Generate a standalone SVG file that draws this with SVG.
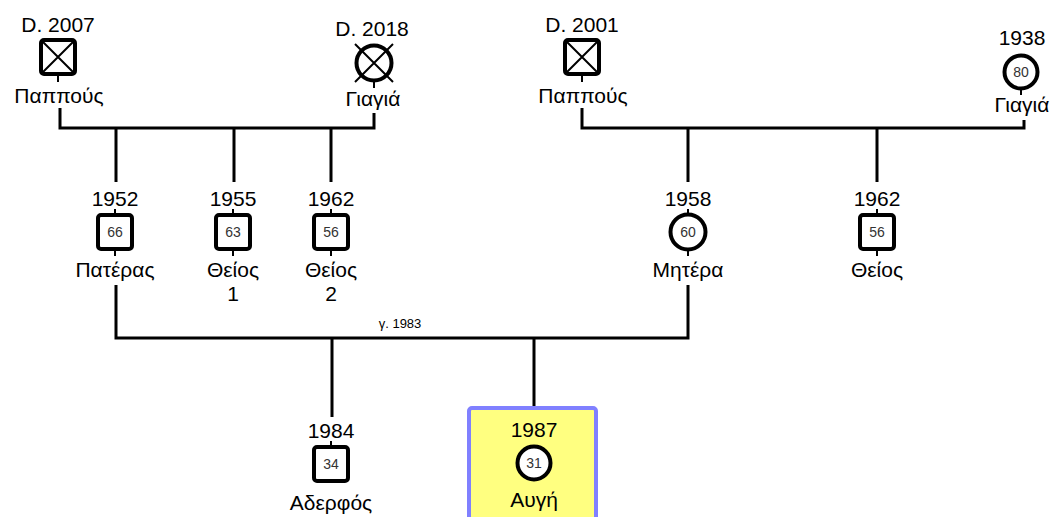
<svg xmlns="http://www.w3.org/2000/svg" width="1056" height="517" viewBox="0 0 1056 517">
<style>
text{font-family:"Liberation Sans",Arial,sans-serif;fill:#000;text-anchor:middle}
.lbl{font-size:21px}
.age{font-size:14px;fill:#333}
.m{font-size:13px}
.line{stroke:#000;stroke-width:3;fill:none}
.sym{stroke:#000;stroke-width:4;fill:#fff}
.x{stroke:#000;stroke-width:2;fill:none}
.stub{stroke:#000;stroke-width:2}
</style>
<rect width="1056" height="517" fill="#fff"/>
<g id="connectors">
<path class="line" d="M60 108V128H374V113"/>
<path class="line" d="M116 128V182M234 128V182M331 128V182"/>
<path class="line" d="M582 108V128H1024V120"/>
<path class="line" d="M688 128V182M877 128V182"/>
<path class="line" d="M116 285V338H688V285"/>
<path class="line" d="M332 338V417M534 338V407"/>
<text class="m" x="400" y="328">γ. 1983</text>
</g>
<g id="auge-highlight">
<rect x="469" y="408" width="127" height="120" rx="3" fill="#ffff80" stroke="#8080ff" stroke-width="4"/>
</g>
<g id="pappous1">
<text class="lbl" x="58" y="32">D. 2007</text>
<line class="stub" x1="58" y1="75" x2="58" y2="82"/>
<rect class="sym" x="41" y="40" width="34" height="34" rx="3"/>
<path class="x" d="M41 40L75 74M75 40L41 74"/>
<text class="lbl" x="59" y="103">Παππούς</text>
</g>
<g id="giagia1">
<text class="lbl" x="372" y="36">D. 2018</text>
<line class="stub" x1="374" y1="80" x2="374" y2="88"/>
<circle class="sym" cx="374" cy="63" r="17.5"/>
<path class="x" d="M355 44L393 82M393 44L355 82"/>
<text class="lbl" x="373" y="106">Γιαγιά</text>
</g>
<g id="pateras">
<text class="lbl" x="115" y="206">1952</text>
<line class="stub" x1="115" y1="209" x2="115" y2="256"/>
<rect class="sym" x="98" y="215" width="34" height="34" rx="3"/>
<text class="age" x="115" y="237">66</text>
<text class="lbl" x="115" y="277">Πατέρας</text>
</g>
<g id="theios1">
<text class="lbl" x="233" y="206">1955</text>
<line class="stub" x1="233" y1="209" x2="233" y2="256"/>
<rect class="sym" x="216" y="215" width="34" height="34" rx="3"/>
<text class="age" x="233" y="237">63</text>
<text class="lbl" x="233" y="277">Θείος</text>
<text class="lbl" x="233" y="301">1</text>
</g>
<g id="theios2">
<text class="lbl" x="331" y="206">1962</text>
<line class="stub" x1="331" y1="209" x2="331" y2="256"/>
<rect class="sym" x="314" y="215" width="34" height="34" rx="3"/>
<text class="age" x="331" y="237">56</text>
<text class="lbl" x="331" y="277">Θείος</text>
<text class="lbl" x="331" y="301">2</text>
</g>
<g id="pappous2">
<text class="lbl" x="582" y="32">D. 2001</text>
<line class="stub" x1="582" y1="75" x2="582" y2="82"/>
<rect class="sym" x="565" y="40" width="34" height="34" rx="3"/>
<path class="x" d="M565 40L599 74M599 40L565 74"/>
<text class="lbl" x="583" y="103">Παππούς</text>
</g>
<g id="giagia2">
<text class="lbl" x="1022" y="45">1938</text>
<line class="stub" x1="1021" y1="88" x2="1021" y2="95"/>
<circle class="sym" cx="1021" cy="72" r="16.5"/>
<text class="age" x="1021" y="77">80</text>
<text class="lbl" x="1022" y="112">Γιαγιά</text>
</g>
<g id="mitera">
<text class="lbl" x="688" y="206">1958</text>
<line class="stub" x1="688" y1="209" x2="688" y2="256"/>
<circle class="sym" cx="688" cy="232" r="17.5"/>
<text class="age" x="688" y="237">60</text>
<text class="lbl" x="688" y="277">Μητέρα</text>
</g>
<g id="theios3">
<text class="lbl" x="877" y="206">1962</text>
<line class="stub" x1="877" y1="209" x2="877" y2="256"/>
<rect class="sym" x="860" y="215" width="34" height="34" rx="3"/>
<text class="age" x="877" y="237">56</text>
<text class="lbl" x="877" y="277">Θείος</text>
</g>
<g id="aderfos">
<text class="lbl" x="331" y="438">1984</text>
<line class="stub" x1="331" y1="441" x2="331" y2="450"/>
<rect class="sym" x="314" y="447" width="34" height="34" rx="3"/>
<text class="age" x="331" y="469">34</text>
<text class="lbl" x="331" y="510">Αδερφός</text>
</g>
<g id="auge">
<text class="lbl" x="534" y="437">1987</text>
<circle class="sym" cx="534" cy="463" r="16.5"/>
<text class="age" x="534" y="468">31</text>
<text class="lbl" x="534" y="507">Αυγή</text>
</g>
</svg>
